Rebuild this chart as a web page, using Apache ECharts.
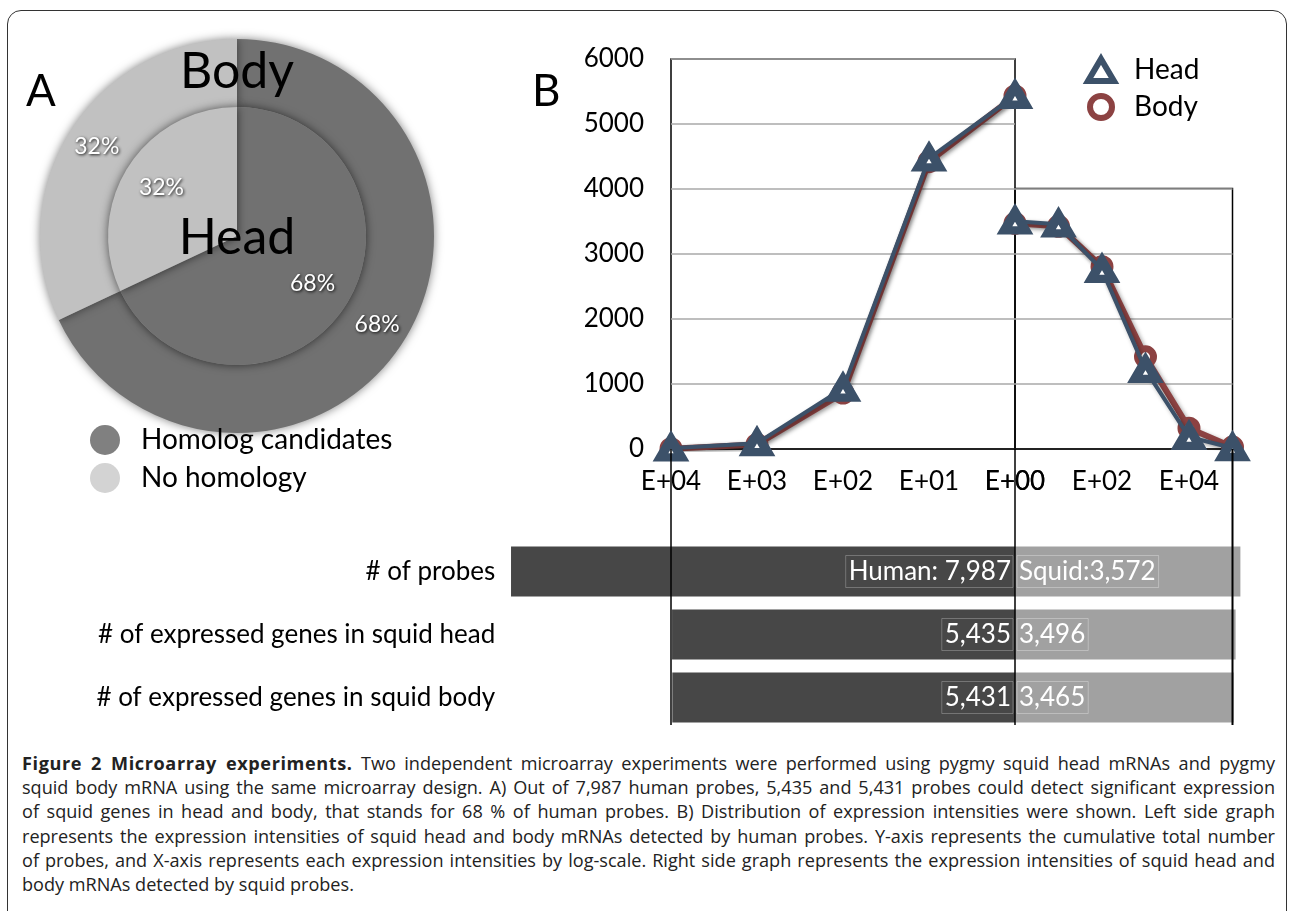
<!DOCTYPE html>
<html>
<head>
<meta charset="utf-8">
<script src="https://cdn.jsdelivr.net/npm/echarts@6/dist/echarts.min.js"></script>
<style>
  body { margin: 0; background: #fff; }
  #frame { position: absolute; left: 7px; top: 10px; width: 1278px; height: 940px; border: 1px solid #333; border-radius: 14px; }
  #chart { position: absolute; left: 0; top: 0; width: 1289px; height: 745px; }
  #caption { position: absolute; left: 22px; top: 751px; width: 1253px; font-family: 'Open Sans', 'Noto Sans', sans-serif; font-size: 18.1px; line-height: 24.2px; color: #222; }
  #caption div { text-align: justify; text-align-last: justify; white-space: nowrap; }
  #caption div.last { text-align-last: left; }
  #caption b { letter-spacing: 0.6px; }
</style>
</head>
<body>
<div id="frame"></div>
<div id="chart"></div>
<div id="caption">
  <div><b>Figure 2 Microarray experiments.</b> Two independent microarray experiments were performed using pygmy squid head mRNAs and pygmy</div>
  <div>squid body mRNA using the same microarray design. A) Out of 7,987 human probes, 5,435 and 5,431 probes could detect significant expression</div>
  <div>of squid genes in head and body, that stands for 68 % of human probes. B) Distribution of expression intensities were shown. Left side graph</div>
  <div>represents the expression intensities of squid head and body mRNAs detected by human probes. Y-axis represents the cumulative total number</div>
  <div>of probes, and X-axis represents each expression intensities by log-scale. Right side graph represents the expression intensities of squid head and</div>
  <div class="last">body mRNAs detected by squid probes.</div>
</div>
<script>
// panel A
var pieNames = ['Homolog candidates', 'No homology'];
var headPie = [68, 32];
var bodyPie = [68, 32];

// panel B, cumulative probe counts
var leftTicks = ['E+04', 'E+03', 'E+02', 'E+01', 'E+00'];
var rightTicks = ['E+00', '', 'E+02', '', 'E+04', ''];
var headHuman = [10, 90, 930, 4470, 5435];
var bodyHuman = [5, 70, 860, 4420, 5431];
var headSquid = [3496, 3450, 2750, 1215, 185, 15];
var bodySquid = [3465, 3420, 2800, 1415, 320, 30];

// probe totals
var barRows = ['# of probes', '# of expressed genes in squid head', '# of expressed genes in squid body'];
var humanCounts = [7987, 5435, 5431];
var squidCounts = [3572, 3496, 3465];

var font = 'Lato';
var pieColors = ['#717171', '#c1c1c1'];
var headColor = '#3c5169';
var bodyColor = '#8c4242';

var gL = { left: 671, top: 59, width: 344, height: 390 };
var gR = { left: 1015, top: 188.5, width: 217.5, height: 260.5 };
var gB = { left: 510.2, top: 540, width: 757.2, height: 189 };

function pieData(vals) {
  return vals.map(function (v, i) {
    return { name: pieNames[i], value: v, itemStyle: { color: pieColors[i] } };
  });
}

var pctLabel = {
  show: true,
  position: 'inside',
  formatter: '{c}%',
  color: '#fff',
  fontFamily: font,
  fontSize: 23,
  textShadowColor: 'rgba(0,0,0,0.9)',
  textShadowBlur: 3,
  textShadowOffsetX: 1,
  textShadowOffsetY: 1
};

var headSym = { color: '#fff', borderColor: headColor, borderWidth: 9, borderJoin: 'miter' };
var bodySym = { color: '#fff', borderColor: bodyColor, borderWidth: 7 };
var shadow = { shadowColor: 'rgba(0,0,0,0.35)', shadowBlur: 4, shadowOffsetX: 2, shadowOffsetY: 2 };

var chart = echarts.init(document.getElementById('chart'));

var option = {
  animation: false,
  textStyle: { fontFamily: font },
  grid: [
    Object.assign({ show: true, borderColor: '#000', borderWidth: 1.5 }, gL),
    Object.assign({ show: true, borderColor: '#000', borderWidth: 1.5 }, gR),
    gB
  ],
  legend: [
    {
      data: [
        { name: pieNames[0], itemStyle: { color: '#808080' } },
        { name: pieNames[1], itemStyle: { color: '#d3d3d3' } }
      ],
      orient: 'vertical', left: 85, top: 420,
      icon: 'circle', itemWidth: 30, itemHeight: 30, itemGap: 8,
      textStyle: { fontFamily: font, fontSize: 28, color: '#000', padding: [0, 0, 0, 16] }
    },
    {
      data: [
        { name: 'Head', icon: 'triangle', itemStyle: { color: '#fff', borderColor: headColor, borderWidth: 6, borderJoin: 'miter' } },
        { name: 'Body', icon: 'circle', itemStyle: { color: '#fff', borderColor: bodyColor, borderWidth: 6 } }
      ],
      orient: 'vertical', left: 1080, top: 51,
      itemWidth: 26, itemHeight: 22, itemGap: 9,
      textStyle: { fontFamily: font, fontSize: 28, color: '#000', padding: [0, 0, 0, 15] }
    }
  ],
  xAxis: [
    {
      gridIndex: 0, type: 'category', boundaryGap: false, data: leftTicks,
      axisLine: { lineStyle: { color: '#000', width: 1.5 } },
      axisTick: { show: false },
      axisLabel: { interval: 0, fontSize: 26, color: '#000', margin: 20 }
    },
    {
      gridIndex: 1, type: 'category', boundaryGap: false, data: rightTicks,
      axisLine: { lineStyle: { color: '#000', width: 1.5 } },
      axisTick: { show: false },
      axisLabel: { interval: 0, fontSize: 26, color: '#000', margin: 20 }
    },
    { gridIndex: 2, type: 'value', min: -8000, max: 4000, show: false }
  ],
  yAxis: [
    {
      gridIndex: 0, type: 'value', min: 0, max: 6000, interval: 1000,
      axisLine: { show: false }, axisTick: { show: false },
      axisLabel: { fontSize: 26, color: '#000', margin: 27, formatter: function (v) { return String(v); } },
      splitLine: { lineStyle: { color: '#a8a8a8', width: 1.5 } }
    },
    {
      gridIndex: 1, type: 'value', min: 0, max: 4000, interval: 1000,
      axisLine: { show: false }, axisTick: { show: false },
      axisLabel: { show: false },
      splitLine: { lineStyle: { color: '#a8a8a8', width: 1.5 } }
    },
    {
      gridIndex: 2, type: 'category', inverse: true, data: barRows,
      axisLine: { show: false }, axisTick: { show: false },
      axisLabel: { fontSize: 26, color: '#000', margin: 15 }
    }
  ],
  series: [
    {
      type: 'pie', name: 'pieBody', center: [237, 236], radius: [129, 197],
      data: pieData(bodyPie), label: pctLabel, labelLine: { show: false },
      itemStyle: { shadowColor: 'rgba(0,0,0,0.5)', shadowBlur: 10 }, silent: true, z: 1
    },
    {
      type: 'pie', name: 'pieHead', center: [237, 236], radius: [0, 129],
      data: pieData(headPie), label: { show: false }, labelLine: { show: false },
      itemStyle: { shadowColor: 'rgba(0,0,0,0.6)', shadowBlur: 10 }, silent: true, z: 2
    },
    {
      type: 'pie', name: 'pieHeadLabels', center: [237, 236], radius: [44, 129],
      data: headPie.map(function (v, i) { return { name: pieNames[i], value: v }; }),
      itemStyle: { color: 'rgba(0,0,0,0)' },
      label: pctLabel, labelLine: { show: false }, silent: true, z: 3
    },
    {
      type: 'line', name: 'Body', xAxisIndex: 0, yAxisIndex: 0, data: bodyHuman,
      symbol: 'circle', symbolSize: 16, itemStyle: bodySym,
      lineStyle: Object.assign({ color: bodyColor, width: 6 }, shadow), z: 3
    },
    {
      type: 'line', name: 'Body', xAxisIndex: 1, yAxisIndex: 1, data: bodySquid,
      symbol: 'circle', symbolSize: 16, itemStyle: bodySym,
      lineStyle: Object.assign({ color: bodyColor, width: 6 }, shadow), z: 3
    },
    {
      type: 'line', name: 'Head', xAxisIndex: 0, yAxisIndex: 0, data: headHuman,
      symbol: 'triangle', symbolSize: [21, 18], itemStyle: headSym,
      lineStyle: Object.assign({ color: headColor, width: 4 }, shadow), z: 4
    },
    {
      type: 'line', name: 'Head', xAxisIndex: 1, yAxisIndex: 1, data: headSquid,
      symbol: 'triangle', symbolSize: [21, 18], itemStyle: headSym,
      lineStyle: Object.assign({ color: headColor, width: 4 }, shadow), z: 4
    },
    {
      type: 'bar', name: 'Human', xAxisIndex: 2, yAxisIndex: 2,
      data: humanCounts.map(function (v) { return -v; }),
      barWidth: 50, barGap: '-100%', itemStyle: { color: '#474747' },
      label: {
        show: true, position: 'insideRight', distance: 2, color: '#fff', fontSize: 26,
        borderColor: 'rgba(255,255,255,0.25)', borderWidth: 1, padding: [4, 2, 2, 3],
        formatter: function (p) {
          var s = Math.abs(p.value).toLocaleString('en-US');
          return p.dataIndex === 0 ? 'Human: ' + s : s;
        }
      }
    },
    {
      type: 'bar', name: 'Squid', xAxisIndex: 2, yAxisIndex: 2, data: squidCounts,
      barWidth: 50, barGap: '-100%', itemStyle: { color: '#a1a1a1' },
      label: {
        show: true, position: 'insideLeft', distance: 2, color: '#fff', fontSize: 26,
        borderColor: 'rgba(255,255,255,0.3)', borderWidth: 1, padding: [4, 3, 2, 2],
        formatter: function (p) {
          var s = p.value.toLocaleString('en-US');
          return p.dataIndex === 0 ? 'Squid:' + s : s;
        }
      }
    }
  ],
  graphic: [
    { type: 'text', left: 26, top: 70, style: { text: 'A', fontFamily: font, fontSize: 44, fill: '#000' } },
    { type: 'text', left: 532, top: 70, style: { text: 'B', fontFamily: font, fontSize: 44, fill: '#000' } },
    { type: 'text', z: 100, style: { x: 237, y: 72, text: 'Body', align: 'center', verticalAlign: 'middle', fontFamily: font, fontSize: 50, fill: '#000' } },
    { type: 'text', z: 100, style: { x: 237, y: 238, text: 'Head', align: 'center', verticalAlign: 'middle', fontFamily: font, fontSize: 50, fill: '#000' } },
    // frame lines running down through the bars
    { type: 'line', z: 100, shape: { x1: gL.left, y1: gL.top + gL.height, x2: gL.left, y2: 725 }, style: { stroke: '#000', lineWidth: 1.5 } },
    { type: 'line', z: 100, shape: { x1: gR.left, y1: gR.top + gR.height, x2: gR.left, y2: 725 }, style: { stroke: '#000', lineWidth: 1.5 } },
    { type: 'line', z: 100, shape: { x1: gR.left + gR.width, y1: gR.top + gR.height, x2: gR.left + gR.width, y2: 725 }, style: { stroke: '#000', lineWidth: 2 } }
  ]
};

chart.setOption(option);
</script>
</body>
</html>
